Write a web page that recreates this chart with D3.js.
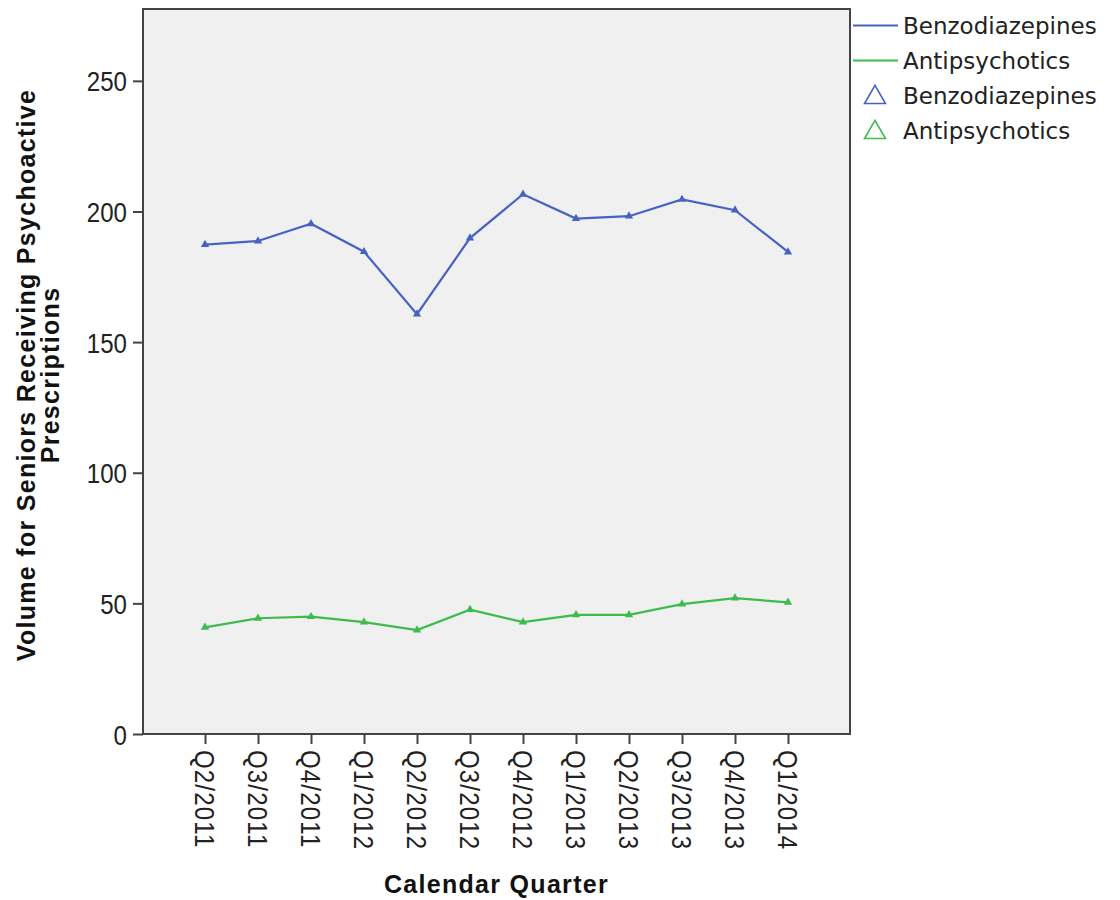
<!DOCTYPE html>
<html>
<head>
<meta charset="utf-8">
<script src="https://cdn.jsdelivr.net/npm/d3@7"></script>
<style>
  body { margin: 0; background: #fff; }
  svg { display: block; }
</style>
</head>
<body>
<div id="chart"></div>
<script>
const quarters = ['Q2/2011', 'Q3/2011', 'Q4/2011', 'Q1/2012', 'Q2/2012', 'Q3/2012',
  'Q4/2012', 'Q1/2013', 'Q2/2013', 'Q3/2013', 'Q4/2013', 'Q1/2014']
const benzodiazepines = [187.3, 188.7, 195.3, 184.6, 160.7, 189.8, 206.6, 197.3, 198.2, 204.6, 200.5, 184.5]
const antipsychotics = [40.8, 44.3, 44.9, 42.8, 39.8, 47.6, 42.8, 45.6, 45.6, 49.7, 52.0, 50.4]
const yTicks = [0, 50, 100, 150, 200, 250]
const seriesNames = ['Benzodiazepines', 'Antipsychotics']

const canvasWidth = 1120
const canvasHeight = 900
const plot = {left: 143, right: 850, top: 9, bottom: 734}
const colors = ['#4763c2', '#3dbb4c']

const svg = d3.select('#chart')
  .append('svg')
  .attr('width', canvasWidth)
  .attr('height', canvasHeight)

const xScale = d3.scalePoint()
  .domain(quarters)
  .range([plot.left, plot.right])
  .padding(1.17)

const yScale = d3.scaleLinear()
  .domain([0, 277.5])
  .range([plot.bottom, plot.top])

// plot background + frame
svg.append('rect')
  .attr('x', plot.left)
  .attr('y', plot.top)
  .attr('width', plot.right - plot.left)
  .attr('height', plot.bottom - plot.top)
  .attr('fill', '#f0f0f0')
  .attr('stroke', '#444')
  .attr('stroke-width', 2)

const tickFont = "'Liberation Sans', Arial, sans-serif"
const squeeze = 0.86 // tick glyphs are tall and narrow in the original

// y axis
const yAxis = svg.append('g')
  .attr('transform', `translate(${plot.left}, 0)`)
  .call(d3.axisLeft(yScale).tickValues(yTicks).tickSize(10).tickPadding(5).tickSizeOuter(0))
yAxis.select('.domain').remove()
yAxis.selectAll('line').attr('stroke', '#444').attr('stroke-width', 2)
yAxis.selectAll('text')
  .attr('font-family', tickFont)
  .attr('font-size', 28)
  .attr('fill', '#222')
  .attr('x', -16 / squeeze)
  .attr('dy', '0.36em')
  .attr('transform', `scale(${squeeze}, 1)`)

// x axis
const xAxis = svg.append('g')
  .attr('transform', `translate(0, ${plot.bottom})`)
  .call(d3.axisBottom(xScale).tickSize(10).tickSizeOuter(0))
xAxis.select('.domain').remove()
xAxis.selectAll('line').attr('stroke', '#444').attr('stroke-width', 2)
xAxis.selectAll('text')
  .attr('font-family', tickFont)
  .attr('font-size', 28)
  .attr('letter-spacing', 1.3)
  .attr('fill', '#222')
  .attr('transform', `rotate(90) scale(${squeeze}, 1)`)
  .attr('x', 16 / squeeze)
  .attr('y', 0)
  .attr('dy', '0.36em')
  .style('text-anchor', 'start')

// axis titles
const titleFont = "'Liberation Sans', Arial, sans-serif"
svg.append('text')
  .attr('x', (plot.left + plot.right) / 2)
  .attr('y', 893)
  .attr('font-family', titleFont)
  .attr('font-weight', 'bold')
  .attr('font-size', 25)
  .attr('letter-spacing', 1.3)
  .attr('fill', '#111')
  .style('text-anchor', 'middle')
  .text('Calendar Quarter')

const yTitle = svg.append('text')
  .attr('transform', 'translate(35, 375) rotate(-90)')
  .attr('font-family', titleFont)
  .attr('font-weight', 'bold')
  .attr('font-size', 25)
  .attr('letter-spacing', 1.3)
  .attr('fill', '#111')
  .style('text-anchor', 'middle')
yTitle.append('tspan').attr('x', 0).attr('dy', 0).text('Volume for Seniors Receiving Psychoactive')
yTitle.append('tspan').attr('x', 0).attr('dy', 24).text('Prescriptions')

// lines + markers
const line = d3.line()
  .x((d, i) => xScale(quarters[i]))
  .y(d => yScale(d))

const triangle = d3.symbol().type(d3.symbolTriangle).size(30)

;[benzodiazepines, antipsychotics].forEach((values, s) => {
  svg.append('path')
    .datum(values)
    .attr('d', line)
    .attr('fill', 'none')
    .attr('stroke', colors[s])
    .attr('stroke-width', 2.2)

  svg.selectAll(`path.marker${s}`)
    .data(values)
    .enter()
    .append('path')
    .attr('class', `marker${s}`)
    .attr('transform', (d, i) => `translate(${xScale(quarters[i])}, ${yScale(d)})`)
    .attr('d', triangle)
    .attr('fill', colors[s])
})

// legend
const legendFont = "'DejaVu Sans', sans-serif"
const legend = svg.append('g').attr('transform', 'translate(853, 0)')
const legendRows = [
  {kind: 'line', name: seriesNames[0], color: colors[0]},
  {kind: 'line', name: seriesNames[1], color: colors[1]},
  {kind: 'marker', name: seriesNames[0], color: colors[0]},
  {kind: 'marker', name: seriesNames[1], color: colors[1]},
]
const bigTriangle = d3.symbol().type(d3.symbolTriangle).size(190)

legendRows.forEach((row, i) => {
  const cy = 25.5 + i * 35
  if (row.kind === 'line') {
    legend.append('line')
      .attr('x1', 0).attr('x2', 45)
      .attr('y1', cy).attr('y2', cy)
      .attr('stroke', row.color)
      .attr('stroke-width', 2)
  } else {
    legend.append('path')
      .attr('transform', `translate(22, ${cy + 2})`)
      .attr('d', bigTriangle)
      .attr('fill', 'none')
      .attr('stroke', row.color)
      .attr('stroke-width', 1.6)
  }
  legend.append('text')
    .attr('x', 50)
    .attr('y', cy)
    .attr('dy', '0.36em')
    .attr('font-family', legendFont)
    .attr('font-size', 23)
    .attr('fill', '#222')
    .text(row.name)
})
</script>
</body>
</html>
